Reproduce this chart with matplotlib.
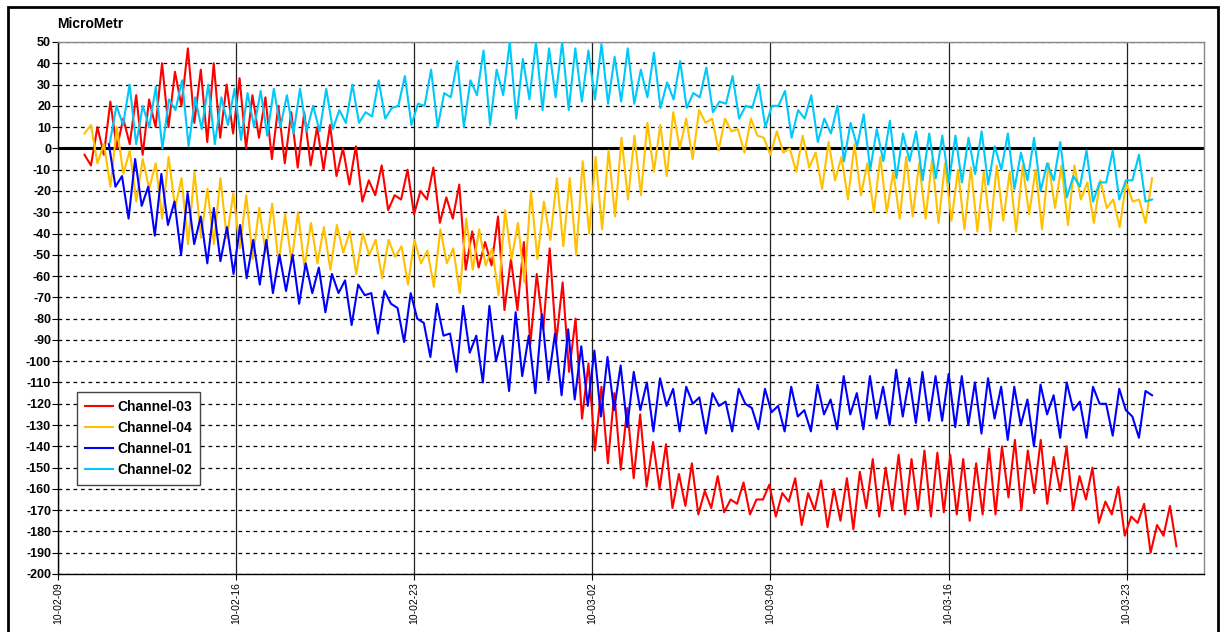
import numpy as np
import pandas as pd
import matplotlib
matplotlib.use('Agg')
import matplotlib.pyplot as plt
import matplotlib.dates as mdates
from matplotlib.patches import Rectangle

plt.rcParams['font.family'] = ['Liberation Sans', 'DejaVu Sans']
plt.rcParams['axes.unicode_minus'] = False

# 6-hourly readings (peak / trough alternating)
ch03_start, ch03_end = '2010-02-10 01:00', '2010-03-24 23:00'
ch03 = [
    -3, -8, 10, -3, 22, 0, 14, 2, 25, -3, 23, 10, 40, 10, 36, 20,
    47, 12, 37, 3, 40, 5, 30, 7, 33, 0, 25, 5, 24, -5, 20, -7,
    17, -9, 17, -8, 10, -10, 11, -13, 0, -17, 1, -25, -15, -22, -8, -29,
    -22, -24, -10, -31,
    -20, -24, -9, -35, -23, -33, -17, -57, -39, -56, -44, -55, -32,
    -76, -52, -76, -44, -92, -59, -85, -47, -91, -63, -105, -80, -127, -101, -142,
    -112, -148, -115, -151, -122, -155, -125, -159, -138, -160, -139, -169, -153, -168, -148, -172,
    -161, -169, -154, -171, -165, -167, -157, -172, -165, -165, -158, -173, -162, -166, -155, -177,
    -162, -170, -156,
    -178, -160, -175, -155, -179, -152, -169, -146, -173, -150, -170, -144, -172, -146, -170, -142,
    -173, -143, -171, -144, -172, -146, -175, -148, -172, -141, -172, -140, -164, -137, -170, -142,
    -162, -137, -167, -145, -161, -140, -170, -154, -165, -150, -176, -166, -172, -159, -182, -173,
    -176, -167, -190, -177, -182, -168, -187,
]

ch04_start, ch04_end = '2010-02-10 01:00', '2010-03-24 00:00'
ch04 = [
    7, 11, -7, 2, -18, 10, -12, -1, -25, -5, -19, -7, -33, -4, -28, -14,
    -45, -11, -42, -19, -45, -14, -42, -21, -47, -22, -52, -28, -49, -26, -54, -31,
    -53, -30, -56, -35, -54, -37, -57, -36, -49, -39, -59, -40, -50, -43, -61, -43,
    -51, -46, -64, -43,
    -54, -48, -65, -38, -54, -47, -68, -33, -57, -38, -55, -47, -69, -29, -52, -35,
    -63, -20, -52, -25, -43, -14, -46, -14, -50, -6, -40, -4, -38, -1, -32, 5,
    -24, 6, -22, 12, -11, 11, -13, 17, 0, 14, -5, 18, 12, 14, -1, 14,
    8, 9, -2, 14, 6, 5, -3, 8, -2, 0, -11, 6, -9, -2, -19,
    3, -15, -4, -24, 2, -22, -7, -30, -4, -30, -11, -33, -4, -32, -7, -33,
    -5, -35, -7, -34, -10, -38, -9, -39, -11, -39, -8, -34, -11, -39, -8, -31,
    -10, -38, -7, -28, -8, -36, -8, -24, -16, -35, -15, -28, -24, -37, -16, -25,
    -24, -35, -14,
]

ch01_start, ch01_end = '2010-02-11 00:00', '2010-03-24 00:00'
ch01 = [
    2, -18, -13, -33, -5, -27, -18, -41, -12, -36, -25, -50, -21, -45, -32, -54,
    -28, -53, -37, -59, -36, -61, -43, -64, -43, -68, -50, -67, -50, -73, -54, -68,
    -56, -77, -59, -68, -62, -83, -64, -69, -68, -87, -67, -73, -75, -91, -68,
    -80, -82, -98, -73, -88, -87, -105, -74, -96, -88, -110, -74, -100, -88, -114, -77,
    -107, -88, -115, -78, -109, -87, -116, -85, -118, -93, -121, -95, -126, -98, -123, -102,
    -131, -105, -123, -110, -133, -108, -121, -113, -133, -112, -120, -117, -134, -115, -121, -119,
    -133, -113, -120, -122, -132, -113, -124, -121, -133, -112, -126, -123, -133, -111,
    -125, -118, -132, -107, -125, -115, -132, -107, -127, -112, -130, -104, -126, -108, -129, -105,
    -128, -107, -128, -106, -131, -107, -130, -110, -134, -108, -127, -112, -137, -112, -130, -118,
    -140, -111, -125, -116, -136, -110, -123, -119, -136, -112, -120, -120, -135, -113, -123, -126,
    -136, -114, -116,
]

ch02_start, ch02_end = '2010-02-11 01:00', '2010-03-24 00:00'
ch02 = [
    3, 20, 11, 30, 2, 20, 10, 29, 0, 23, 18, 32, 1, 24, 9, 30,
    2, 24, 11, 28, 4, 26, 10, 27, 6, 28, 10, 25, 7, 28, 8, 20,
    8, 28, 9, 18, 12, 30, 12, 17, 15, 32, 14, 19, 20, 34, 11,
    21, 20, 37, 10, 26, 24, 41, 10, 32, 25, 46, 11, 37, 25, 50, 14,
    42, 23, 50, 18, 47, 24, 50, 18, 47, 22, 46, 23, 49, 21, 43, 22,
    47, 21, 37, 24, 45, 19, 31, 23, 41, 19, 26, 24, 38, 17, 22, 21,
    34, 14, 20, 19, 30, 10, 20, 20, 27, 5, 18, 14, 25, 3,
    14, 7, 20, -6, 12, 1, 16, -10, 9, -6, 13, -14, 7, -6, 8, -15,
    7, -14, 6, -16, 6, -16, 5, -12, 8, -17, 1, -10, 7, -19, -2, -15,
    5, -20, -7, -15, 3, -23, -13, -18, -1, -25, -16, -16, -1, -24, -15, -15,
    -3, -25, -24,
]

series = [
    ('Channel-03', ch03, ch03_start, ch03_end, '#FF0000'),
    ('Channel-04', ch04, ch04_start, ch04_end, '#FFC000'),
    ('Channel-01', ch01, ch01_start, ch01_end, '#0000FF'),
    ('Channel-02', ch02, ch02_start, ch02_end, '#00C8F8'),
]

fig = plt.figure(figsize=(12.23, 6.32), dpi=100)
ax = fig.add_axes([58/1223, 1 - 574/632, (1204-58)/1223, (574-42)/632])

for i, (name, vals, t0, t1, col) in enumerate(series):
    t = pd.date_range(t0, t1, periods=len(vals))
    ax.plot(t, vals, color=col, lw=1.5, label=name, zorder=3 + i,
            solid_joinstyle='round')

ax.axhline(0, color='black', lw=2.2, zorder=2)

ax.set_ylim(-200, 50)
ax.set_yticks(np.arange(-200, 51, 10))
ax.set_xlim(pd.Timestamp('2010-02-09'), pd.Timestamp('2010-03-26 01:00'))
ax.set_xticks(pd.date_range('2010-02-09', '2010-03-23', freq='7D'))
ax.xaxis.set_major_formatter(mdates.DateFormatter('%y-%m-%d'))

ax.grid(axis='y', color='black', lw=0.9, linestyle=(0, (3, 3)), zorder=1)
ax.grid(axis='x', color='#222222', lw=0.9, linestyle='-', zorder=1)
ax.set_axisbelow(True)

for lab in ax.get_yticklabels():
    lab.set_fontweight('bold')
ax.tick_params(axis='y', labelsize=9, length=4, width=0.8, pad=1)
ax.tick_params(axis='x', labelsize=7.5, labelrotation=90, length=4, width=0.8, pad=2)

ax.spines['left'].set_color('black')
ax.spines['bottom'].set_color('black')
ax.spines['top'].set_color('#888888')
ax.spines['right'].set_color('#888888')
for s in ax.spines.values():
    s.set_linewidth(1.0)

fig.text(57/1223, 1 - 24/632, 'MicroMetr', fontsize=10, fontweight='bold', va='center', ha='left')

leg = ax.legend(loc='upper left', bbox_to_anchor=((77-58)/1146, (574-392)/532),
                prop={'weight': 'bold', 'size': 10}, fancybox=False, framealpha=1,
                edgecolor='#444444', handlelength=2.0, handletextpad=0.3,
                labelspacing=0.5, borderpad=0.6, borderaxespad=0)
leg.get_frame().set_linewidth(1.0)
leg.set_zorder(10)

fig.add_artist(Rectangle((8/1223, -0.05), (1218-8)/1223, 1 - 7/632 + 0.05,
                         transform=fig.transFigure, fill=False, edgecolor='black',
                         lw=2.0, clip_on=False))

fig.savefig('out.png', dpi=100)
